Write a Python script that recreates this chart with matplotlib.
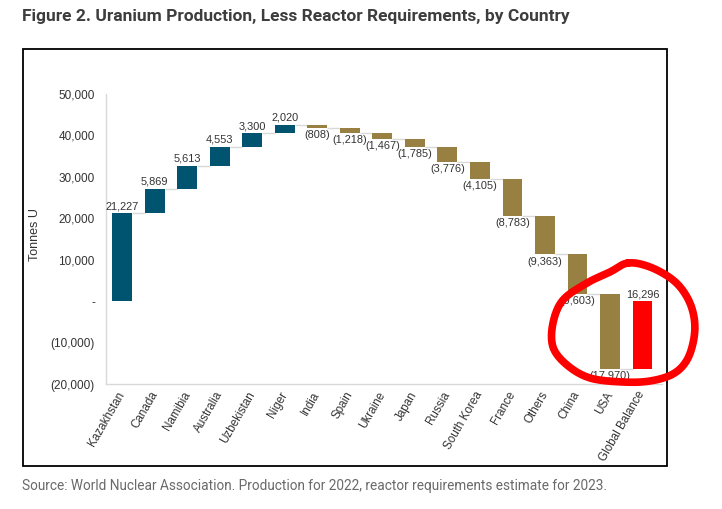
import numpy as np
import matplotlib
matplotlib.use("Agg")
import matplotlib.pyplot as plt
from matplotlib.lines import Line2D
from matplotlib.patches import Rectangle
from matplotlib.ticker import FuncFormatter

# ---------------- data ----------------
countries = ["Kazakhstan", "Canada", "Namibia", "Australia", "Uzbekistan", "Niger",
             "India", "Spain", "Ukraine", "Japan", "Russia", "South Korea", "France",
             "Others", "China", "USA"]
balances = [21227, 5869, 5613, 4553, 3300, 2020,
            -808, -1218, -1467, -1785, -3776, -4105, -8783,
            -9363, -9603, -17970]
total_label = "Global Balance"
y_ticks = [-20000, -10000, 0, 10000, 20000, 30000, 40000, 50000]

title = "Figure 2. Uranium Production, Less Reactor Requirements, by Country"
source = "Source: World Nuclear Association. Production for 2022, reactor requirements estimate for 2023."

TEAL = "#00546f"
GOLD = "#978042"
RED = "#ff0000"
GRID = "#d9d9d9"
TXT = "#333333"

plt.rcParams['font.family'] = ['Liberation Sans', 'DejaVu Sans']

W, H = 722, 509
fig = plt.figure(figsize=(W / 100, H / 100), dpi=100)

def px(x0, y0, x1, y1):
    return [x0 / W, 1 - y1 / H, (x1 - x0) / W, (y1 - y0) / H]

ax = fig.add_axes(px(106, 94, 662, 384))

# waterfall geometry
vals = np.array(balances, dtype=float)
ends = np.cumsum(vals)
starts = ends - vals
total = ends[-1]
n = len(vals)
xs = np.arange(n + 1)
bw = 0.61

colors = [TEAL if v > 0 else GOLD for v in vals]
ax.bar(xs[:n], vals, bottom=starts, width=bw, color=colors, zorder=3)
ax.bar(xs[n], total, bottom=0, width=bw, color=RED, zorder=3)

# connectors
for i in range(n):
    ax.plot([xs[i] + bw / 2, xs[i + 1] - bw / 2], [ends[i], ends[i]],
            color=GRID, lw=1.0, zorder=2, solid_capstyle='butt')

def fmt_val(v):
    return f"{v:,.0f}" if v >= 0 else f"({-v:,.0f})"

for i in range(n):
    v = vals[i]
    if v > 0:
        ax.annotate(fmt_val(v), (xs[i], ends[i]), xytext=(0, 1.5), textcoords='offset points',
                    ha='center', va='bottom', fontsize=7.9, color=TXT)
    else:
        ax.annotate(fmt_val(v), (xs[i], ends[i]), xytext=(0, -1.5), textcoords='offset points',
                    ha='center', va='top', fontsize=7.9, color=TXT)
ax.annotate(f"{-total:,.0f}", (xs[n], 0), xytext=(0, 1.5), textcoords='offset points',
            ha='center', va='bottom', fontsize=7.9, color=TXT)

# axes styling
ax.set_ylim(-20000, 50000)
ax.set_xlim(-0.5, n + 0.6)
ax.set_yticks(y_ticks)

def yfmt(v, pos):
    if v == 0:
        return "-"
    return f"{v:,.0f}" if v > 0 else f"({-v:,.0f})"

ax.yaxis.set_major_formatter(FuncFormatter(yfmt))
ax.set_xticks(xs)
ax.set_xticklabels(countries + [total_label], rotation=60, ha='right', va='center',
                   rotation_mode='anchor', fontsize=8.4, color=TXT)
ax.tick_params(axis='y', length=0, pad=8, labelsize=8.5, labelcolor=TXT)
ax.tick_params(axis='x', length=0, pad=6)
for s in ['top', 'right']:
    ax.spines[s].set_visible(False)
for s in ['left', 'bottom']:
    ax.spines[s].set_color(GRID)
    ax.spines[s].set_linewidth(1.0)
ax.set_ylabel("Tonnes U", fontsize=9, color=TXT, va='center')
ax.yaxis.set_label_coords(-0.128, 0.514)

# outer frame
fig.add_artist(Rectangle((23 / W, 1 - 466 / H), (667 - 23) / W, (466 - 49) / H,
                         transform=fig.transFigure, fill=False, ec='black', lw=1.3))

# title and source
fig.text(22 / W, 1 - 17 / H, title, fontsize=12.5, fontweight='bold', color="#3d3d3d",
         family=['Roboto', 'DejaVu Sans'], ha='left', va='center')
fig.text(22 / W, 1 - 486 / H, source, fontsize=9.8, color="#6a6a6a",
         family=['Roboto', 'DejaVu Sans'], ha='left', va='center')

# hand-drawn red loop (decoration)
loop = np.array([(628, 263), (650, 267), (673, 280), (687, 297), (694, 317), (694, 338),
                 (687, 360), (673, 374), (650, 381), (623, 382), (590, 378), (567, 365),
                 (553, 347), (553, 323), (563, 300), (587, 283), (610, 272)], dtype=float)
m = len(loop)
pts = []
for k in range(m):
    p0, p1, p2, p3 = loop[(k - 1) % m], loop[k], loop[(k + 1) % m], loop[(k + 2) % m]
    for t in np.linspace(0, 1, 12, endpoint=False):
        t2, t3 = t * t, t * t * t
        pts.append(0.5 * ((2 * p1) + (-p0 + p2) * t + (2 * p0 - 5 * p1 + 4 * p2 - p3) * t2
                          + (-p0 + 3 * p1 - 3 * p2 + p3) * t3))
pts.append(pts[0])
pts = np.array(pts)
fig.add_artist(Line2D(pts[:, 0] / W, 1 - pts[:, 1] / H, transform=fig.transFigure,
                      color=RED, lw=5.5, solid_capstyle='round', solid_joinstyle='round'))

fig.savefig("out.png", dpi=100)
